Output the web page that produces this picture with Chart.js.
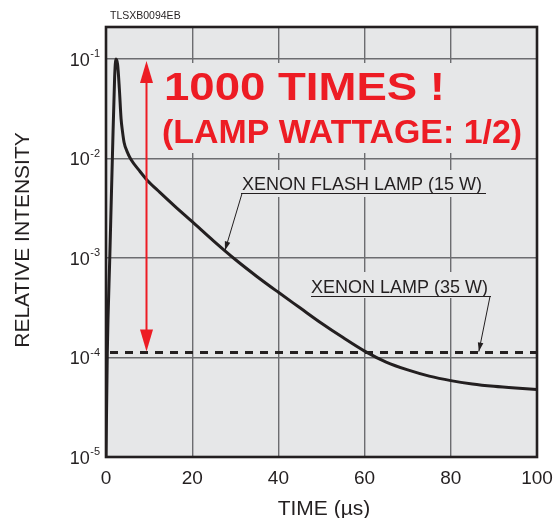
<!DOCTYPE html>
<html><head><meta charset="utf-8">
<script src="https://cdn.jsdelivr.net/npm/chart.js@4.4.1/dist/chart.umd.min.js"></script>
<style>html,body{margin:0;padding:0;background:#fff;}canvas{display:block}</style>
</head><body>
<canvas id="c" width="556" height="518"></canvas>
<script>
// ---- data ----
const flashTimes = [0, 0.3, 0.9, 1.5, 2.0, 2.3, 2.7, 3.1, 3.5, 3.8, 4.2, 4.9, 5.8, 7.9, 9.5, 12.5, 16, 20, 25, 30, 35, 40, 45, 50, 55, 60, 65, 70, 75, 80, 85, 90, 95, 100];
const flashIntensity = [1e-5, 1.1e-4, 1.1e-3, 1.1e-2, 0.065, 0.1, 0.088, 0.05, 0.025, 0.0191, 0.0145, 0.01175, 0.00977, 0.00741, 0.0061, 0.00457, 0.00331, 0.00232, 0.00148, 9.66e-4, 6.53e-4, 4.52e-4, 3.16e-4, 2.21e-4, 1.585e-4, 1.16e-4, 9.0e-5, 7.5e-5, 6.5e-5, 5.86e-5, 5.43e-5, 5.14e-5, 4.93e-5, 4.76e-5];
const lampTimes = [0, 100];
const lampIntensity = [1.12e-4, 1.12e-4];
const xTickValues = [0, 20, 40, 60, 80, 100];
const yTickValues = [1e-5, 1e-4, 1e-3, 1e-2, 1e-1];
const yTickExponents = ['-5', '-4', '-3', '-2', '-1'];
const arrowTime = 9.3;
const arrowTop = 0.1;
const arrowBottom = 1.12e-4;
const flashLeaderTarget = [27.6, 0.00119];
const lampLeaderTarget = [86.5, 1.12e-4];

const INK = '#231f20';
const RED = '#ed1c24';
const PLOT_BG = '#e6e7e8';
const GRID = '#6c6d70';
const FONT = '"Liberation Sans", Arial, Helvetica, sans-serif';

function fitText(ctx, text, x, y, width, font) {
  ctx.font = font;
  const w = ctx.measureText(text).width;
  ctx.save();
  ctx.translate(x, y);
  ctx.scale(width / w, 1);
  ctx.textAlign = 'left';
  ctx.textBaseline = 'alphabetic';
  ctx.fillText(text, 0, 0);
  ctx.restore();
}
function arrowHead(ctx, x1, y1, x2, y2, len, half) {
  const a = Math.atan2(y2 - y1, x2 - x1);
  ctx.beginPath();
  ctx.moveTo(x2, y2);
  ctx.lineTo(x2 - len * Math.cos(a) + half * Math.sin(a), y2 - len * Math.sin(a) - half * Math.cos(a));
  ctx.lineTo(x2 - len * Math.cos(a) - half * Math.sin(a), y2 - len * Math.sin(a) + half * Math.cos(a));
  ctx.closePath();
  ctx.fill();
}

const decor = {
  id: 'decor',
  beforeDraw(chart) {
    const {ctx, chartArea: a} = chart;
    ctx.save();
    ctx.fillStyle = '#fff';
    ctx.fillRect(0, 0, chart.width, chart.height);
    ctx.fillStyle = PLOT_BG;
    ctx.fillRect(a.left, a.top, a.right - a.left, a.bottom - a.top);
    ctx.restore();
  },
  beforeDatasetsDraw(chart) {
    const {ctx} = chart;
    ctx.save();
    ctx.fillStyle = PLOT_BG;
    ctx.fillRect(158, 63, 370, 90);   // big red text
    ctx.fillRect(238, 170, 252, 27);  // flash label
    ctx.fillRect(307, 272, 188, 26);  // lamp label
    ctx.restore();
  },
  afterDraw(chart) {
    const {ctx, chartArea: a} = chart;
    const xs = chart.scales.x, ys = chart.scales.y;
    ctx.save();
    // frame
    ctx.strokeStyle = INK;
    ctx.lineWidth = 2.6;
    ctx.strokeRect(a.left, a.top, a.right - a.left, a.bottom - a.top);

    // red double arrow
    const ax = Math.round(xs.getPixelForValue(arrowTime)) + 0.5;
    const at = ys.getPixelForValue(arrowTop) + 2;
    const ab = ys.getPixelForValue(arrowBottom) - 1;
    ctx.strokeStyle = RED; ctx.fillStyle = RED; ctx.lineWidth = 2;
    ctx.beginPath(); ctx.moveTo(ax, at + 15); ctx.lineTo(ax, ab - 15); ctx.stroke();
    arrowHead(ctx, ax, at + 30, ax, at, 22, 6.5);
    arrowHead(ctx, ax, ab - 30, ax, ab, 22, 6.5);

    // big red text
    ctx.fillStyle = RED;
    fitText(ctx, '1000 TIMES !', 164, 100, 281, 'bold 39px ' + FONT);
    fitText(ctx, '(LAMP WATTAGE: 1/2)', 162, 143, 360, 'bold 34px ' + FONT);

    // series labels with leaders
    ctx.fillStyle = INK; ctx.strokeStyle = INK;
    ctx.font = '18px ' + FONT;
    ctx.textBaseline = 'alphabetic'; ctx.textAlign = 'left';
    ctx.fillText('XENON FLASH LAMP (15 W)', 242, 190);
    ctx.fillText('XENON LAMP (35 W)', 311, 293);
    ctx.lineWidth = 1;
    ctx.beginPath(); ctx.moveTo(241, 193.5); ctx.lineTo(486, 193.5); ctx.stroke();
    ctx.beginPath(); ctx.moveTo(311, 296.5); ctx.lineTo(491, 296.5); ctx.stroke();
    const fx = xs.getPixelForValue(flashLeaderTarget[0]), fy = ys.getPixelForValue(flashLeaderTarget[1]);
    ctx.beginPath(); ctx.moveTo(242, 193.5); ctx.lineTo(fx, fy); ctx.stroke();
    arrowHead(ctx, 242, 193.5, fx, fy, 9, 2.8);
    const lx = xs.getPixelForValue(lampLeaderTarget[0]), ly = ys.getPixelForValue(lampLeaderTarget[1]) - 1;
    ctx.beginPath(); ctx.moveTo(490, 296.5); ctx.lineTo(lx, ly); ctx.stroke();
    arrowHead(ctx, 490, 296.5, lx, ly, 9, 2.8);

    // y tick labels 10^n
    yTickValues.forEach((v, i) => {
      const py = ys.getPixelForValue(v);
      ctx.font = '11px ' + FONT;
      const sw = ctx.measureText(yTickExponents[i]).width;
      ctx.textAlign = 'left';
      ctx.fillText(yTickExponents[i], 100 - sw, py - 2);
      ctx.font = '18px ' + FONT;
      ctx.textAlign = 'right';
      ctx.fillText('10', 100 - sw - 0.5, py + 6.5);
    });
    // x tick labels
    ctx.font = '19px ' + FONT; ctx.textAlign = 'center';
    xTickValues.forEach(v => ctx.fillText(String(v), xs.getPixelForValue(v), 484));

    // axis titles
    ctx.font = '21px ' + FONT;
    ctx.fillText('TIME (\u00b5s)', 324, 515);
    ctx.save();
    ctx.translate(29, 240);
    ctx.rotate(-Math.PI / 2);
    ctx.textAlign = 'center';
    ctx.fillText('RELATIVE INTENSITY', 0, 0);
    ctx.restore();
    // figure code
    ctx.font = '10.5px ' + FONT; ctx.textAlign = 'left';
    ctx.fillText('TLSXB0094EB', 110, 19);
    ctx.restore();
  }
};

new Chart(document.getElementById('c'), {
  type: 'line',
  data: {
    datasets: [
      {
        label: 'XENON FLASH LAMP (15 W)',
        data: flashTimes.map((t, i) => ({x: t, y: flashIntensity[i]})),
        borderColor: INK, borderWidth: 3, pointRadius: 0,
        cubicInterpolationMode: 'monotone', borderJoinStyle: 'round', borderCapStyle: 'round'
      },
      {
        label: 'XENON LAMP (35 W)',
        data: lampTimes.map((t, i) => ({x: t, y: lampIntensity[i]})),
        borderColor: INK, borderWidth: 3, pointRadius: 0,
        borderDash: [8, 7], borderDashOffset: 11
      }
    ]
  },
  options: {
    responsive: false, animation: false,
    layout: {padding: {top: 27, right: 19, left: 0, bottom: 0}},
    plugins: {legend: {display: false}, tooltip: {enabled: false}},
    scales: {
      x: {
        type: 'linear', min: 0, max: 100,
        afterBuildTicks: s => { s.ticks = xTickValues.map(v => ({value: v})); },
        afterFit: s => { s.height = 61; },
        ticks: {display: false},
        grid: {color: GRID, lineWidth: 1.4, drawTicks: false},
        border: {display: false}
      },
      y: {
        type: 'logarithmic', min: 1e-5, max: 0.21,
        afterBuildTicks: s => { s.ticks = yTickValues.map(v => ({value: v})); },
        afterFit: s => { s.width = 106; },
        ticks: {display: false},
        grid: {color: GRID, lineWidth: 1.4, drawTicks: false},
        border: {display: false}
      }
    }
  },
  plugins: [decor]
});
</script>
</body></html>
